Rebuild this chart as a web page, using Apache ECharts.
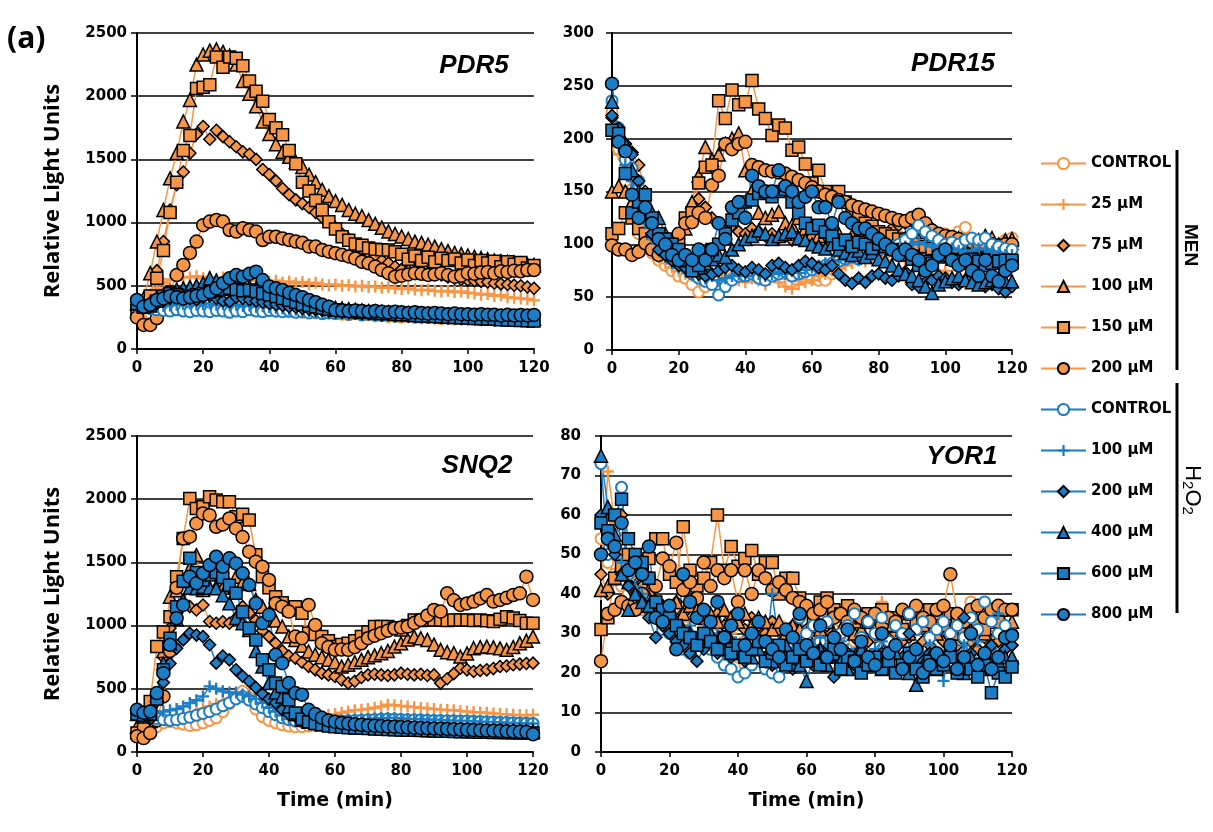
<!DOCTYPE html>
<html>
<head>
<meta charset="utf-8">
<script src="https://cdn.jsdelivr.net/npm/echarts@6/dist/echarts.min.js"></script>
<style>
  html, body { margin: 0; padding: 0; background: #fff; }
  #chart { width: 1213px; height: 832px; }
</style>
</head>
<body>
<div id="chart"></div>
<script>
// time points (min)
var times = [0,2,4,6,8,10,12,14,16,18,20,22,24,26,28,30,32,34,36,38,40,42,44,46,48,50,52,54,56,58,
             60,62,64,66,68,70,72,74,76,78,80,82,84,86,88,90,92,94,96,98,100,102,104,106,108,110,112,114,116,118,120];

var seriesNames = ['MEN CONTROL','MEN 25 μM','MEN 75 μM','MEN 100 μM','MEN 150 μM','MEN 200 μM',
                   'H2O2 CONTROL','H2O2 100 μM','H2O2 200 μM','H2O2 400 μM','H2O2 600 μM','H2O2 800 μM'];

// ---------- PDR5 ----------
var PDR5_MEN_CONTROL = [330,300,285,300,310,315,325,320,310,320, 330,320,325,335,330,320,325,315,310,315,
  305,300,305,295,300,290,295,285,280,285, 280,275,270,278,268,270,262,268,258,260,
  252,258,250,248,255,248,240,246,238,242, 245,238,232,240,230,236,228,232,236,228, 230];
var PDR5_MEN_25 = [350,380,430,480,520,550,560,570,565,575, 560,570,555,565,560,550,545,555,540,550,
  530,540,525,535,520,530,515,525,510,505, 510,500,505,495,500,490,495,485,490,480,
  475,480,470,465,470,460,455,460,450,455, 445,440,430,435,420,425,410,405,400,395, 385];
var PDR5_MEN_75 = [300,330,420,620,850,1100,1300,1400,1550,1700, 1760,1660,1730,1680,1640,1600,1560,1540,1500,1420,
  1380,1330,1270,1220,1180,1150,1120,1080,1040,1010, 960,910,870,820,790,760,730,700,680,650,
  630,620,610,605,600,590,585,570,560,550, 545,540,535,530,520,515,510,505,500,490, 480];
var PDR5_MEN_100 = [300,400,600,850,1100,1350,1550,1800,1970,2250, 2330,2360,2370,2350,2320,2250,2120,2020,1920,1800,
  1700,1620,1560,1520,1480,1440,1380,1320,1260,1210, 1170,1140,1100,1070,1050,1020,990,960,930,910,
  890,870,850,840,825,810,790,775,760,750, 740,730,720,710,700,695,690,685,675,670, 665];
var PDR5_MEN_150 = [300,330,420,560,780,1080,1320,1570,1690,2060, 2070,2090,2310,2230,2310,2300,2240,2120,2040,1960,
  1815,1750,1695,1570,1465,1320,1250,1175,1100,1007, 950,888,860,830,820,800,790,785,783,770,
  750,710,735,700,725,690,717,700,712,680, 704,660,700,680,695,650,690,670,685,640, 660];
var PDR5_MEN_200 = [250,190,190,245,330,450,585,665,760,850, 980,1008,1020,1008,941,929,955,941,929,862,
  888,888,875,862,850,840,810,810,784,770, 758,745,732,715,690,678,652,625,600,572,
  580,590,600,595,586,590,600,585,572,580, 600,595,605,610,600,615,610,620,615,625, 625];
var PDR5_H2O2_CONTROL = [340,330,320,310,305,300,310,300,295,305, 300,295,305,300,290,300,295,310,300,295,
  305,300,295,300,290,295,285,290,280,285, 280,285,275,280,270,275,270,265,270,260,
  265,260,255,260,250,255,250,245,250,245, 240,245,240,235,240,235,230,235,230,225, 230];
var PDR5_H2O2_100 = [360,340,330,335,340,345,350,355,360,350, 355,360,350,355,345,350,340,345,335,340,
  330,325,320,315,310,305,300,300,295,290, 290,285,280,280,275,275,270,270,265,265,
  260,260,255,255,250,250,250,245,245,240, 240,240,235,235,230,230,230,225,225,220, 220];
var PDR5_H2O2_200 = [350,330,340,360,380,400,410,420,400,390, 410,420,400,380,375,410,400,390,380,370,
  360,350,345,335,330,320,315,310,305,300, 295,290,290,285,280,280,275,270,270,265,
  265,260,260,255,255,250,250,245,245,240, 240,240,235,235,230,230,230,225,225,220, 220];
var PDR5_H2O2_400 = [360,340,370,400,430,450,470,480,490,500, 520,560,540,520,510,500,495,490,480,470,
  460,440,420,400,385,370,360,350,340,330, 325,320,315,310,305,300,298,295,292,290,
  288,285,282,280,278,275,272,270,268,265, 262,260,258,255,252,250,250,248,245,242, 240];
var PDR5_H2O2_600 = [360,330,340,380,420,440,430,410,420,430, 440,450,460,470,480,470,460,467,455,440,
  430,415,400,385,370,355,345,335,325,315, 310,305,300,295,290,290,285,280,280,275,
  270,270,265,262,260,258,255,252,250,248, 245,242,240,238,235,232,230,228,226,224, 222];
var PDR5_H2O2_800 = [388,335,350,388,400,420,410,400,410,420, 427,450,480,520,560,585,572,595,612,545,
  494,480,467,445,427,410,388,370,350,335, 308,305,300,305,300,295,300,295,290,295,
  290,285,290,285,280,285,280,275,280,275, 275,270,275,270,270,265,270,265,268,265, 269];

// ---------- PDR15 ----------
var PDR15_MEN_CONTROL = [225,190,160,130,110,100,92,85,80,75, 70,68,62,55,60,63,66,65,68,70,
  70,72,70,68,72,75,72,70,70,72, 68,66,66,72,80,85,90,92,95,98,
  100,104,102,108,105,106,110,108,104,106, 110,108,112,116,105,100,98,96,100,104, 106];
var PDR15_MEN_25 = [210,185,170,150,125,105,95,88,82,78, 75,72,70,68,65,70,72,68,70,66,
  64,68,66,62,70,64,60,58,62,64, 66,70,72,75,78,80,82,85,84,86,
  88,85,90,87,84,88,86,82,80,72, 75,70,63,68,72,75,80,82,84,86, 88];
var PDR15_MEN_75 = [220,200,195,187,175,150,125,110,100,98, 105,120,130,143,135,125,120,115,118,112,
  110,115,112,108,110,106,108,104,106,108, 104,106,102,104,100,102,106,104,108,110,
  112,108,115,118,120,122,126,120,115,110, 105,100,98,96,94,92,95,93,96,94, 95];
var PDR15_MEN_100 = [150,155,150,140,130,120,112,105,100,98, 100,115,140,165,192,180,185,195,200,205,
  170,150,130,125,128,131,120,118,125,115, 110,108,112,105,110,100,108,104,106,102,
  100,104,98,102,106,100,104,98,102,100, 104,100,106,102,98,104,108,106,100,104, 105];
var PDR15_MEN_150 = [110,115,130,125,115,110,105,100,95,92, 100,125,130,158,173,175,236,219,246,232,
  235,255,228,219,203,213,210,189,192,176, 158,170,150,145,150,140,131,125,120,117,
  112,110,108,105,104,102,100,98,96,95, 94,92,90,90,88,87,86,85,84,83, 82];
var PDR15_MEN_200 = [99,95,95,90,93,101,95,90,95,100, 110,120,121,130,125,156,165,195,190,195,
  197,175,173,170,169,168,167,164,161,158, 154,150,147,145,142,140,137,135,133,131,
  129,127,125,123,122,125,128,120,113,110, 108,107,105,103,102,101,100,100,99,100, 100];
var PDR15_H2O2_CONTROL = [236,210,180,172,160,140,120,105,95,88, 82,78,72,68,65,62,52,60,66,70,
  70,72,68,66,70,72,74,70,72,74, 76,78,80,82,84,86,88,86,90,92,
  94,96,98,100,104,110,118,112,108,104, 100,102,100,104,106,104,106,100,98,96, 95];
var PDR15_H2O2_100 = [230,200,175,160,140,120,105,95,88,82, 78,75,72,70,68,70,66,68,70,72,
  70,74,72,70,72,74,72,75,73,76, 78,80,82,84,85,86,88,86,88,90,
  92,94,95,96,98,100,102,100,98,96, 95,96,94,92,94,96,95,93,92,90, 90];
var PDR15_H2O2_200 = [222,210,195,185,160,130,110,95,90,85, 80,78,75,72,70,72,75,78,80,76,
  74,78,76,72,80,82,78,76,80,84, 82,78,76,80,72,66,63,68,64,70,
  72,68,66,70,74,62,60,64,66,70, 68,64,62,66,68,64,60,62,58,55, 60];
var PDR15_H2O2_400 = [235,205,195,170,150,135,130,125,110,100, 90,85,80,78,82,86,90,88,95,100,
  105,108,113,110,105,108,110,112,106,104, 100,98,96,100,95,92,90,94,88,92,
  86,84,80,76,72,70,66,60,54,62, 65,68,70,66,64,62,64,66,68,65, 65];
var PDR15_H2O2_600 = [208,205,167,130,140,147,125,110,105,100, 95,85,75,80,90,95,100,110,123,130,
  140,142,148,150,145,150,152,140,130,120, 115,118,112,108,100,104,98,102,100,96,
  100,98,95,92,90,86,80,84,82,88, 90,86,84,82,86,84,80,82,84,85, 85];
var PDR15_H2O2_800 = [252,197,188,147,125,135,120,105,100,90, 85,90,85,95,85,95,120,105,135,140,
  125,165,155,150,150,170,155,150,140,145, 150,135,135,120,140,125,120,115,115,110,
  105,100,95,90,95,90,85,75,80,90, 95,85,80,85,75,70,85,70,65,75, 80];

// ---------- SNQ2 ----------
var SNQ2_MEN_CONTROL = [150,140,160,200,230,240,230,220,210,215, 230,250,270,320,380,440,480,430,340,280,
  250,230,215,205,200,200,205,210,215,220, 225,230,235,240,245,250,250,248,245,240,
  240,238,236,235,232,230,230,228,228,226, 225,224,222,220,220,218,218,216,215,214, 214];
var SNQ2_MEN_25 = [120,130,170,230,260,270,280,290,300,320, 340,360,380,400,420,440,450,460,420,370,
  320,290,270,260,255,260,265,275,285,295, 300,310,320,330,335,340,350,360,374,370,
  365,360,355,350,345,340,335,332,330,325, 320,315,312,310,305,300,298,295,292,290, 295];
var SNQ2_MEN_75 = [150,130,200,450,750,980,1100,1180,1150,1124, 1163,1032,1019,1030,1019,1058,1150,1100,1040,960,
  913,860,800,760,742,710,676,650,624,610, 597,570,545,560,590,610,615,610,605,610,
  624,615,610,615,605,610,545,580,620,663, 650,637,645,650,660,676,680,690,695,700, 703];
var SNQ2_MEN_100 = [200,180,250,450,800,1229,1280,1350,1450,1558, 1282,1300,1308,1300,1320,1387,1340,1330,1203,1150,
  1097,1040,992,913,887,840,795,770,750,729, 710,676,690,710,729,750,765,782,800,834,
  860,890,913,900,887,850,808,790,782,755, 780,821,830,834,828,820,808,830,860,880, 913];
var SNQ2_MEN_150 = [150,200,400,834,950,1071,1387,1690,2006,1927, 1940,2019,1993,1980,1980,1861,1880,1835,1560,1387,
  1300,1229,1180,1124,1150,1097,940,930,913,880, 834,850,860,880,913,950,992,992,992,980,
  966,1000,1045,1040,1045,1045,1045,1040,1045,1045, 1045,1040,1045,1038,1032,1050,1071,1060,1040,1019, 1019];
var SNQ2_MEN_200 = [124,110,150,250,440,800,1300,1690,1703,1808, 1887,1874,1782,1800,1848,1769,1700,1585,1506,1466,
  1361,1177,1150,1111,913,900,1163,1005,860,830, 808,810,808,830,860,900,920,940,960,979,
  985,992,1020,1045,1080,1124,1111,1255,1200,1163, 1175,1190,1215,1242,1190,1203,1220,1242,1255,1387, 1203];
var SNQ2_H2O2_CONTROL = [300,290,280,265,255,250,255,265,275,290, 305,320,340,365,390,420,440,410,380,350,
  320,295,270,255,245,240,238,236,238,240, 242,245,248,250,252,255,258,260,262,260,
  258,256,255,254,252,250,250,248,248,246, 245,244,242,240,238,236,234,232,230,228, 226];
var SNQ2_H2O2_100 = [300,305,300,310,320,330,340,360,387,410, 440,519,500,480,470,470,455,440,420,390,
  350,320,290,260,250,245,240,240,242,245, 248,250,255,258,260,262,265,268,270,268,
  265,262,260,258,256,255,252,250,248,246, 245,242,240,238,236,234,232,230,228,226, 225];
var SNQ2_H2O2_200 = [300,280,260,400,550,700,820,887,940,925, 913,848,703,760,729,650,600,560,510,460,
  420,390,334,300,282,250,240,230,220,210, 205,200,198,195,192,190,188,185,183,180,
  180,178,176,175,174,172,170,170,168,167, 166,165,164,163,162,162,161,160,160,160, 160];
var SNQ2_H2O2_400 = [300,280,300,450,700,860,1050,1200,1300,1295, 1308,1300,1295,1240,1176,1060,1019,966,800,676,
  545,470,440,360,300,255,240,230,220,215, 210,205,200,198,196,194,192,190,188,186,
  184,182,180,180,178,176,175,174,173,172, 171,170,170,169,168,168,167,166,166,165, 165];
var SNQ2_H2O2_600 = [300,290,300,420,650,900,1150,1350,1532,1420, 1361,1400,1420,1380,1320,1255,1110,980,887,729,
  650,545,518,413,308,260,240,225,215,205, 200,196,192,190,188,185,182,180,178,176,
  175,173,172,170,168,166,165,164,162,160, 160,158,157,156,155,154,153,152,151,150, 150];
var SNQ2_H2O2_800 = [334,310,320,466,624,848,1058,1163,1387,1335, 1414,1479,1545,1466,1532,1492,1414,1321,1176,1019,
  1085,769,703,545,466,453,334,300,270,250, 240,230,225,220,215,210,208,205,202,200,
  198,195,192,190,188,186,184,182,180,178, 176,174,172,170,168,166,164,162,160,158, 140];

// ---------- YOR1 ----------
var YOR1_MEN_CONTROL = [54,48,45,42,40,38,36,35,34,32, 31,30,33,29,27,30,28,26,25,27,
  24,22,25,28,30,27,26,29,31,28, 30,28,32,29,31,33,30,28,32,30,
  31,29,33,30,32,28,31,33,29,32, 30,34,31,29,38,33,30,32,29,31, 30];
var YOR1_MEN_25 = [40,71,58,50,45,42,40,38,36,35, 37,34,36,33,35,32,34,31,33,30,
  32,29,31,28,30,32,33,30,28,31, 30,32,29,31,33,30,32,34,31,33,
  32,38,30,33,31,29,34,32,30,31, 33,30,28,32,31,29,30,33,28,31, 30];
var YOR1_MEN_75 = [45,40,55,60,48,44,42,40,38,37, 36,38,35,37,34,36,33,35,32,34,
  33,31,34,32,30,33,31,29,32,30, 31,29,30,32,28,30,31,29,30,28,
  29,31,27,30,28,29,31,28,27,30, 28,29,27,30,28,26,29,27,28,26, 27];
var YOR1_MEN_100 = [41,42,44,45,43,42,40,39,38,37, 36,38,35,37,36,34,35,33,36,34,
  33,35,32,34,33,31,33,30,32,31, 30,32,31,33,30,31,32,30,31,33,
  31,30,32,34,31,30,32,33,31,30, 32,31,30,33,31,32,30,33,31,32, 33];
var YOR1_MEN_150 = [31,34,44,47,50,48,46,49,54,54, 45,43,57,46,42,44,48,60,46,52,
  47,49,51,45,48,48,40,44,44,39, 36,34,38,39,36,35,37,33,34,35,
  33,36,32,34,31,35,33,32,36,34, 32,35,33,30,34,32,31,35,33,36, 36];
var YOR1_MEN_200 = [23,35,36,38,37,36,40,44,42,49, 47,53,41,43,39,48,42,46,44,46,
  38,46,40,46,44,41,43,41,39,38, 37,35,36,38,34,35,33,36,34,33,
  35,32,34,33,36,35,37,34,33,36, 37,45,35,33,36,37,34,36,37,36, 36];
var YOR1_H2O2_CONTROL = [73,50,55,67,45,40,38,36,34,31, 30,28,26,25,27,29,26,24,22,21,
  19,20,22,24,21,20,19,23,25,34, 30,32,28,33,27,30,32,35,29,33,
  30,34,28,32,30,35,31,33,29,31, 33,30,32,29,34,31,38,33,30,32, 30];
var YOR1_H2O2_100 = [60,56,50,48,45,42,40,38,35,34, 36,33,30,32,29,31,28,30,27,29,
  26,28,25,27,24,40,27,25,26,28, 25,27,29,26,24,28,26,25,27,24,
  26,28,25,27,24,26,23,25,27,24, 18,26,24,27,25,28,23,26,35,28, 27];
var YOR1_H2O2_200 = [60,55,50,45,42,40,38,34,29,32, 30,28,27,25,23,26,28,25,27,24,
  26,23,25,27,24,22,26,24,21,25, 23,22,26,24,19,23,25,22,26,24,
  23,25,22,27,24,30,26,23,25,22, 24,26,23,34,25,22,24,27,23,26, 27];
var YOR1_H2O2_400 = [75,62,55,45,36,40,38,37,35,36, 34,33,31,30,28,29,30,27,26,28,
  25,27,24,26,28,23,25,27,24,22, 18,24,26,22,25,23,21,24,26,22,
  24,21,23,25,22,20,17,22,24,21, 23,25,22,20,24,22,25,21,23,24, 24];
var YOR1_H2O2_600 = [58,56,60,64,54,50,48,44,38,36, 34,32,30,29,27,30,28,26,29,25,
  27,24,26,28,23,25,27,22,24,26, 23,25,22,24,26,21,24,23,20,22,
  24,21,23,20,22,25,21,19,23,21, 22,24,20,23,21,19,22,15,20,19, 21.5];
var YOR1_H2O2_800 = [50,54,52,58,46,48,45,52,34,33, 37,26,45,38,34,36,33,38,29,32,
  35,27,30,33,28,26,24,31,29,35, 27,25,32,24,29,26,31,23,28,24,
  22,30,25,27,21,24,26,20,22,25, 23,27,21,24,30,22,25,21,24,29, 29.5];

var panelData = [
  [PDR5_MEN_CONTROL,PDR5_MEN_25,PDR5_MEN_75,PDR5_MEN_100,PDR5_MEN_150,PDR5_MEN_200,
   PDR5_H2O2_CONTROL,PDR5_H2O2_100,PDR5_H2O2_200,PDR5_H2O2_400,PDR5_H2O2_600,PDR5_H2O2_800],
  [PDR15_MEN_CONTROL,PDR15_MEN_25,PDR15_MEN_75,PDR15_MEN_100,PDR15_MEN_150,PDR15_MEN_200,
   PDR15_H2O2_CONTROL,PDR15_H2O2_100,PDR15_H2O2_200,PDR15_H2O2_400,PDR15_H2O2_600,PDR15_H2O2_800],
  [SNQ2_MEN_CONTROL,SNQ2_MEN_25,SNQ2_MEN_75,SNQ2_MEN_100,SNQ2_MEN_150,SNQ2_MEN_200,
   SNQ2_H2O2_CONTROL,SNQ2_H2O2_100,SNQ2_H2O2_200,SNQ2_H2O2_400,SNQ2_H2O2_600,SNQ2_H2O2_800],
  [YOR1_MEN_CONTROL,YOR1_MEN_25,YOR1_MEN_75,YOR1_MEN_100,YOR1_MEN_150,YOR1_MEN_200,
   YOR1_H2O2_CONTROL,YOR1_H2O2_100,YOR1_H2O2_200,YOR1_H2O2_400,YOR1_H2O2_600,YOR1_H2O2_800]
];
var panelTitles = ['PDR5','PDR15','SNQ2','YOR1'];
var yMax = [2500, 300, 2500, 80];
var yStep = [500, 50, 500, 10];

var ORANGE = '#F79646', BLUE = '#1B7DC5';
var PLUS = 'path://M4,0H6V4H10V6H6V10H4V6H0V4H4Z';
var marks = [
  {symbol:'circle', size:11, kind:'hollow'},
  {symbol:PLUS, size:12, kind:'plus'},
  {symbol:'diamond', size:12, kind:'fill'},
  {symbol:'triangle', size:13, kind:'fill'},
  {symbol:'rect', size:12, kind:'fill'},
  {symbol:'circle', size:13, kind:'fill'}
];

var grids = [
  {left:137, top:33, width:397, height:316},
  {left:612, top:33, width:400, height:317},
  {left:137, top:436, width:396, height:316},
  {left:601, top:436, width:411, height:316}
];
var labelMargin = [10, 18, 10, 20];

var FONT = 'DejaVu Sans';

var xAxes = [], yAxes = [], series = [];
grids.forEach(function(g, gi){
  xAxes.push({
    type:'value', gridIndex:gi, min:0, max:120, interval:20,
    name: gi >= 2 ? 'Time (min)' : '', nameLocation:'middle', nameGap:40,
    nameTextStyle:{fontFamily:FONT, fontWeight:'bold', fontSize:19, color:'#000'},
    axisLine:{show:true, onZero:false, lineStyle:{color:'#000', width:2}},
    axisTick:{show:true, length:5, lineStyle:{color:'#000', width:1.5}},
    axisLabel:{fontFamily:FONT, fontWeight:'bold', fontSize:15, color:'#000', margin:12},
    splitLine:{show:false}
  });
  yAxes.push({
    type:'value', gridIndex:gi, min:0, max:yMax[gi], interval:yStep[gi],
    name: (gi === 0 || gi === 2) ? 'Relative Light Units' : '',
    nameLocation:'middle', nameGap:73, nameRotate:90,
    nameTextStyle:{fontFamily:'Open Sans', fontWeight:'bold', fontSize:22, color:'#000'},
    axisLine:{show:true, lineStyle:{color:'#000', width:2}},
    axisTick:{show:true, length:6, lineStyle:{color:'#000', width:1.5}},
    axisLabel:{fontFamily:FONT, fontWeight:'bold', fontSize:15, color:'#000', margin:labelMargin[gi],
               formatter:function(v){ return String(v); }},
    splitLine:{show:true, lineStyle:{color:'#000', width:1.5}}
  });
  panelData[gi].forEach(function(vals, si){
    var c = si < 6 ? ORANGE : BLUE;
    var m = marks[si % 6];
    var itemStyle;
    if (m.kind === 'hollow') itemStyle = {color:'#fff', borderColor:c, borderWidth:2};
    else if (m.kind === 'plus') itemStyle = {color:c, borderWidth:0};
    else itemStyle = {color:c, borderColor:'#000', borderWidth:1.5};
    series.push({
      name: seriesNames[si], type:'line', xAxisIndex:gi, yAxisIndex:gi,
      symbol:m.symbol, symbolSize:m.size, showAllSymbol:true,
      lineStyle:{color:c, width:1.5}, itemStyle:itemStyle,
      emphasis:{disabled:true},
      data: vals.map(function(v, i){ return [times[i], v]; })
    });
  });
});

var titlePos = [[474,66],[953,64],[477,466],[962,457]];
var graphics = [
  {type:'text', left:7, top:24, style:{text:'(a)', font:'bold 30px "Open Sans"', fill:'#000'}},
  {type:'line', shape:{x1:1177, y1:150, x2:1177, y2:370}, style:{stroke:'#000', lineWidth:3}},
  {type:'line', shape:{x1:1177, y1:383, x2:1177, y2:613}, style:{stroke:'#000', lineWidth:3}},
  {type:'text', x:1190, y:245, rotation:-Math.PI/2,
   style:{text:'MEN', font:'bold 19px "Liberation Sans"', fill:'#000', align:'center', verticalAlign:'middle'}},
  {type:'text', x:1192, y:490, rotation:-Math.PI/2,
   style:{text:'H{s|2}O{s|2}', font:'22px "Liberation Sans"', fill:'#000', align:'center', verticalAlign:'middle',
          rich:{s:{font:'15px "Liberation Sans"', fill:'#000', verticalAlign:'bottom', padding:[9,0,0,0]}}}}
];
panelTitles.forEach(function(t, i){
  graphics.push({type:'text', x:titlePos[i][0], y:titlePos[i][1],
    style:{text:t, font:'italic bold 26px "Liberation Sans"', fill:'#000', align:'center', verticalAlign:'middle'}});
});

var chart = echarts.init(document.getElementById('chart'));
chart.setOption({
  animation:false,
  backgroundColor:'#fff',
  grid:grids,
  xAxis:xAxes,
  yAxis:yAxes,
  legend:{
    data:seriesNames, orient:'vertical', left:1035, top:151,
    itemWidth:45, itemHeight:14, itemGap:26, selectedMode:false,
    formatter:function(n){ return n.replace(/^(MEN|H2O2) /, ''); },
    textStyle:{fontFamily:FONT, fontWeight:'bold', fontSize:15, color:'#000', lineHeight:14}
  },
  graphic:graphics,
  series:series
});
</script>
</body>
</html>
